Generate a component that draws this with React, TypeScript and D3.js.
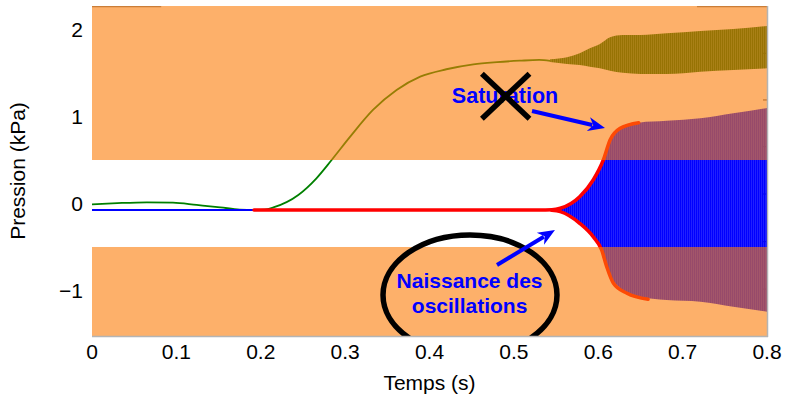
import React from 'react';
import * as d3 from 'd3';

const W = 785;
const H = 398;
const margin = { top: 6, right: 18, bottom: 62, left: 92 };

// Axes
const timeDomain: [number, number] = [0, 0.8];
const pressureDomain: [number, number] = [-1.523, 2.27];
const xTicks = [0, 0.1, 0.2, 0.3, 0.4, 0.5, 0.6, 0.7, 0.8];
const xTickLabels = ['0', '0.1', '0.2', '0.3', '0.4', '0.5', '0.6', '0.7', '0.8'];
const yTicks = [-1, 0, 1, 2];
const yTickLabels = ['\u22121', '0', '1', '2'];
const frameTicks = [1.726, 1.19, 0.653, 0.109, -0.439, -0.984];
const topEdgeSpans: [number, number][] = [[0, 0.082], [0.717, 0.8]];

// Shaded pressure bands (kPa)
const bandLow = [0.5, -1.523];
const bandHigh = [2.27, -0.5];

// Mouthpiece pressure (green)
const greenT = [0, 0.03, 0.065, 0.096, 0.124, 0.152, 0.175, 0.193, 0.205, 0.215, 0.2445, 0.266, 0.284, 0.306, 0.333, 0.361, 0.389, 0.42, 0.452, 0.48, 0.507, 0.53, 0.543];
const greenV = [-0.01, 0.004, 0.014, 0.009, -0.017, -0.044, -0.07, -0.075, -0.07, -0.045, 0.098, 0.29, 0.5, 0.768, 1.075, 1.305, 1.458, 1.543, 1.6, 1.625, 1.641, 1.65, 1.64];

// Green oscillation envelope
const oliveT = [0.543, 0.563, 0.578, 0.59, 0.602, 0.614, 0.629, 0.65, 0.681, 0.721, 0.76, 0.8];
const oliveTop = [1.657, 1.68, 1.726, 1.784, 1.833, 1.91, 1.937, 1.937, 1.956, 1.983, 2.006, 2.04];
const oliveBottom = [1.626, 1.603, 1.592, 1.572, 1.554, 1.526, 1.503, 1.489, 1.489, 1.515, 1.534, 1.554];

// Acoustic pressure before onset (blue)
const blueT = [0, 0.545];
const blueV = [-0.075, -0.075];

// Blue oscillation envelope
const oscT = [0.545, 0.555, 0.578, 0.594, 0.606, 0.614, 0.626, 0.648, 0.681, 0.721, 0.76, 0.8];
const oscTop = [-0.075, -0.055, 0.078, 0.27, 0.5, 0.73, 0.864, 0.929, 0.95, 0.979, 1.037, 1.098];
const oscBottom = [-0.075, -0.094, -0.228, -0.382, -0.598, -0.82, -0.975, -1.07, -1.11, -1.129, -1.186, -1.244];

// Growth envelope (red)
const redUpperT = [0.192, 0.53, 0.545, 0.555, 0.578, 0.594, 0.606, 0.614, 0.626, 0.648];
const redUpperV = [-0.075, -0.075, -0.072, -0.055, 0.078, 0.27, 0.5, 0.73, 0.864, 0.929];
const redLowerT = [0.545, 0.555, 0.578, 0.594, 0.604, 0.61, 0.618, 0.634, 0.659];
const redLowerV = [-0.078, -0.094, -0.228, -0.382, -0.534, -0.726, -0.917, -1.032, -1.101];

// Annotations (data units)
const saturationLabel = { t: 0.4895, v: 1.159, text: 'Saturation' };
const crossMark = { t: 0.4903, v: 1.233, dt: 0.0282, dv: 0.259 };
const arrows = [
  { t0: 0.5215, v0: 1.063, t1: 0.608, v1: 0.868 },
  { t0: 0.48, v0: -0.707, t1: 0.5487, v1: -0.305 },
];
const onsetLines = ['Naissance des', 'oscillations'];
const onsetLabel = { t: 0.4475, v: [-0.97, -1.26] };
const onsetEllipse = { t: 0.448, v: -1.052, rt: 0.1031, rv: 0.69 };

const FONT = "'Liberation Sans', Arial, sans-serif";

export default function App() {
  const x = d3.scaleLinear().domain(timeDomain).range([margin.left, W - margin.right]);
  const y = d3.scaleLinear().domain(pressureDomain).range([H - margin.bottom, margin.top]);
  const x0 = x(timeDomain[0]);
  const x1 = x(timeDomain[1]);
  const yTop = y(pressureDomain[1]);
  const yBot = y(pressureDomain[0]);

  const line = d3
    .line<number>()
    .curve(d3.curveMonotoneX);
  const pathOf = (ts: number[], vs: number[]) =>
    line.x((_, i) => x(ts[i])).y((_, i) => y(vs[i]))(ts.map((_, i) => i)) || '';

  const areaOf = (ts: number[], top: number[], bot: number[]) =>
    d3
      .area<number>()
      .curve(d3.curveMonotoneX)
      .x((i) => x(ts[i]))
      .y0((i) => y(bot[i]))
      .y1((i) => y(top[i]))(ts.map((_, i) => i)) || '';

  const arrowShapes = arrows.map((a) => {
    const sx = x(a.t0), sy = y(a.v0), ex = x(a.t1), ey = y(a.v1);
    const len = Math.hypot(ex - sx, ey - sy);
    const ux = (ex - sx) / len, uy = (ey - sy) / len;
    const px = -uy, py = ux;
    const headL = 17, headW = 7, notch = 12;
    const lineEnd = [ex - ux * (notch + 1), ey - uy * (notch + 1)];
    const head = [
      [ex, ey],
      [ex - ux * headL + px * headW, ey - uy * headL + py * headW],
      [ex - ux * notch, ey - uy * notch],
      [ex - ux * headL - px * headW, ey - uy * headL - py * headW],
    ];
    return { sx, sy, lineEnd, head: 'M' + head.map((p) => p.join(',')).join('L') + 'Z' };
  });

  const cx = x(crossMark.t), cy = y(crossMark.v);
  const hx = x(crossMark.t + crossMark.dt) - cx;
  const hy = y(crossMark.v) - y(crossMark.v + crossMark.dv);

  return (
    <svg
      width={W}
      height={H}
      style={{ position: 'absolute', left: 0, top: 0, background: '#fff' }}
      fontFamily={FONT}
    >
      <defs>
        <clipPath id="plotClip">
          <rect x={x0} y={yTop} width={x1 - x0} height={yBot - yTop} />
        </clipPath>
        <pattern id="blueOsc" patternUnits="userSpaceOnUse" width={2} height={4}>
          <rect width={2} height={4} fill="#0000ff" fillOpacity={0.82} />
          <rect width={1.3} height={4} fill="#0000ff" />
        </pattern>
        <pattern id="greenOsc" patternUnits="userSpaceOnUse" width={2} height={4}>
          <rect width={2} height={4} fill="#007000" fillOpacity={0.75} />
          <rect width={1.3} height={4} fill="#006800" />
        </pattern>
      </defs>

      <g clipPath="url(#plotClip)">
        {/* top edge fragments */}
        {topEdgeSpans.map(([a, b], i) => (
          <line key={i} x1={x(a)} x2={x(b)} y1={yTop + 0.5} y2={yTop + 0.5} stroke="#808080" strokeWidth={1.5} />
        ))}
        {/* right edge ticks */}
        {frameTicks.map((v, i) => (
          <line key={i} x1={x1 - 4} x2={x1} y1={y(v)} y2={y(v)} stroke="#444" strokeWidth={1} />
        ))}

        {/* green signal */}
        <path d={pathOf(greenT, greenV)} fill="none" stroke="#008000" strokeWidth={1.8} />
        <path d={areaOf(oliveT, oliveTop, oliveBottom)} fill="url(#greenOsc)" />

        {/* blue signal */}
        <path d={pathOf(blueT, blueV)} fill="none" stroke="#0000ff" strokeWidth={2} />
        <path d={areaOf(oscT, oscTop, oscBottom)} fill="url(#blueOsc)" />

        {/* red envelope */}
        <path d={pathOf(redUpperT, redUpperV)} fill="none" stroke="#ff0000" strokeWidth={3.5} strokeLinecap="round" />
        <path d={pathOf(redLowerT, redLowerV)} fill="none" stroke="#ff0000" strokeWidth={3.5} strokeLinecap="round" />

        {/* shaded bands */}
        {bandLow.map((lo, i) => (
          <rect
            key={i}
            x={x0}
            width={x1 - x0}
            y={y(bandHigh[i])}
            height={y(lo) - y(bandHigh[i])}
            fill="rgb(252,123,7)"
            fillOpacity={0.6}
          />
        ))}

        {/* ellipse around onset */}
        <ellipse
          cx={x(onsetEllipse.t)}
          cy={y(onsetEllipse.v)}
          rx={x(onsetEllipse.t + onsetEllipse.rt) - x(onsetEllipse.t)}
          ry={y(onsetEllipse.v) - y(onsetEllipse.v + onsetEllipse.rv)}
          fill="none"
          stroke="#000"
          strokeWidth={5.5}
        />
      </g>

      {/* frame */}
      <line x1={x0} x2={x1 + 1} y1={yBot + 0.5} y2={yBot + 0.5} stroke="#b4b4b4" strokeWidth={1.5} />
      <line x1={x1 + 0.5} x2={x1 + 0.5} y1={yTop} y2={yBot + 1} stroke="#b4b4b4" strokeWidth={1.5} />

      {/* annotations */}
      <text
        x={x(saturationLabel.t)}
        y={y(saturationLabel.v)}
        textAnchor="middle"
        fontWeight="bold"
        fontSize={21.5}
        fill="#0000ff"
      >
        {saturationLabel.text}
      </text>
      <g stroke="#000" strokeWidth={5.5}>
        <line x1={cx - hx} y1={cy - hy} x2={cx + hx} y2={cy + hy} />
        <line x1={cx + hx} y1={cy - hy} x2={cx - hx} y2={cy + hy} />
      </g>
      {onsetLines.map((s, i) => (
        <text
          key={i}
          x={x(onsetLabel.t)}
          y={y(onsetLabel.v[i])}
          textAnchor="middle"
          fontWeight="bold"
          fontSize={21}
          fill="#0000ff"
        >
          {s}
        </text>
      ))}
      {arrowShapes.map((a, i) => (
        <g key={i}>
          <line x1={a.sx} y1={a.sy} x2={a.lineEnd[0]} y2={a.lineEnd[1]} stroke="#0000ff" strokeWidth={4} />
          <path d={a.head} fill="#0000ff" />
        </g>
      ))}

      {/* tick labels */}
      {xTicks.map((t, i) => (
        <text key={i} x={x(t)} y={yBot + 23} textAnchor="middle" fontSize={21} fill="#000">
          {xTickLabels[i]}
        </text>
      ))}
      {yTicks.map((v, i) => (
        <text key={i} x={x0 - 9} y={y(v) + 7.5} textAnchor="end" fontSize={21} fill="#000">
          {yTickLabels[i]}
        </text>
      ))}
      <text x={(x0 + x1) / 2} y={yBot + 54} textAnchor="middle" fontSize={21} fill="#000">
        Temps (s)
      </text>
      <text
        transform={`translate(25, ${(yTop + yBot) / 2}) rotate(-90)`}
        textAnchor="middle"
        fontSize={21}
        fill="#000"
      >
        Pression (kPa)
      </text>
    </svg>
  );
}
